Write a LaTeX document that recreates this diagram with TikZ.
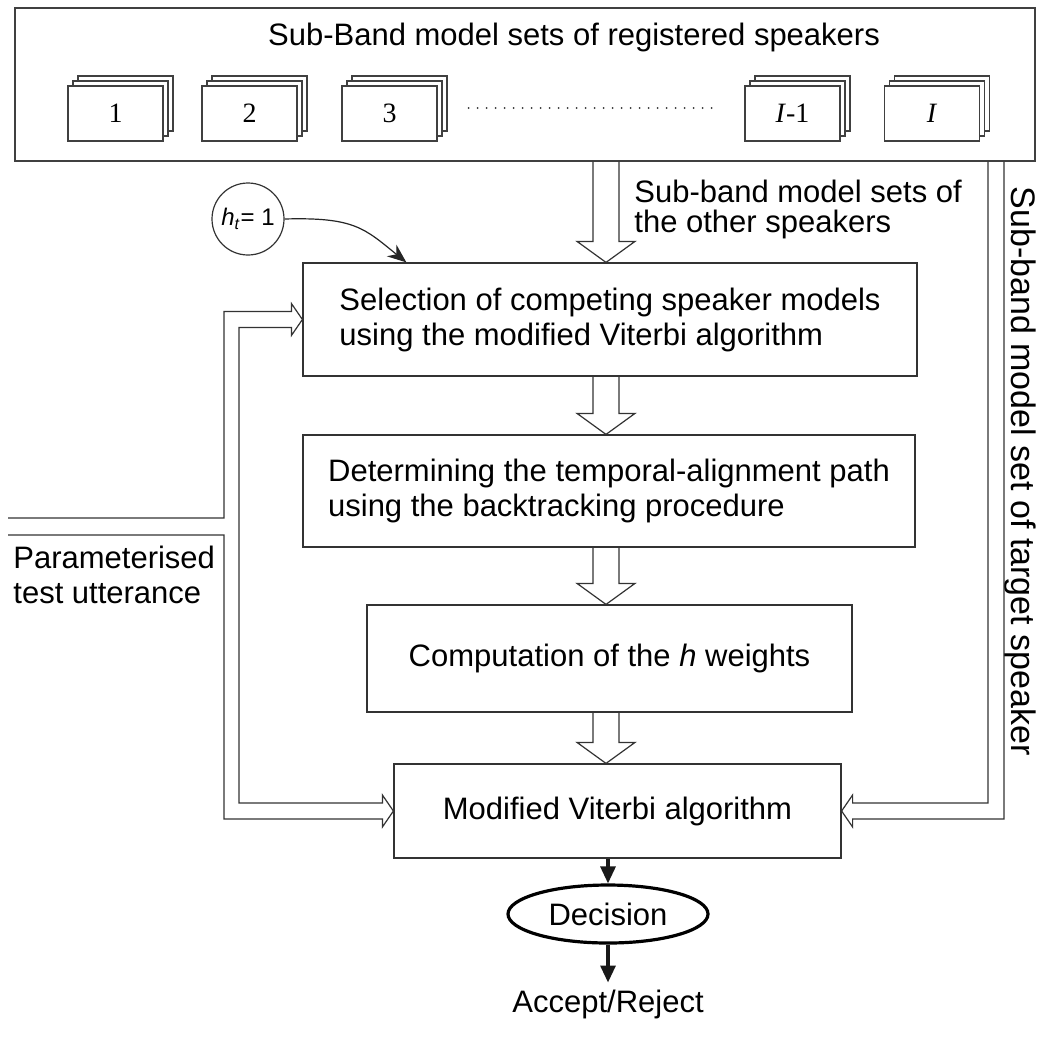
\documentclass[tikz,border=0pt]{standalone}
\usepackage{fontspec}
\setmainfont{Liberation Sans}
\newfontfamily\numfont{Liberation Serif}
\usetikzlibrary{arrows.meta,calc,shapes.geometric}
\newcommand{\mainfs}{\fontsize{15.5pt}{17.5pt}\selectfont}
\newcommand{\notefs}{\fontsize{15.5pt}{15pt}\selectfont}
\newcommand{\sidefs}{\fontsize{17pt}{19pt}\selectfont}
\newcommand{\numfs}{\numfont\fontsize{14pt}{16pt}\selectfont}
\newcommand{\htfs}{\fontsize{12pt}{14pt}\selectfont}
\tikzset{
  frame/.style    = {draw=black!75,line width=0.6pt},
  procbox/.style  = {draw=black!80,line width=0.6pt,inner sep=0pt,align=left,font=\mainfs},
  modelbox/.style = {frame,fill=white,minimum width=47.5pt,minimum height=27.5pt,inner sep=0pt,font=\numfs},
  hollow/.style   = {draw=black!80,line width=0.6pt,line join=miter},
  outarr/.style   = {-{Triangle[length=8.5pt,width=7.5pt]},line width=1.6pt,black!90},
  curvearr/.style = {-{Stealth[length=9.5pt,width=7.5pt]},line width=0.6pt,black!85},
  dotline/.style  = {line width=1pt,line cap=round,dash pattern=on 0pt off 4.5pt,black!80}
}
\newcommand{\modelstack}[3]{%
  \draw[frame,fill=white] (#2-37.5,76) rectangle (#2+57.5,131);
  \draw[frame,fill=white] (#2-42.5,81) rectangle (#2+52.5,136);
  \node[modelbox] (#1) at (#2,113.5) {#3};
}
\newcommand{\vblock}[2]{%
  \draw[hollow] let \p1=(#1), \p2=(#2) in
    (\x2-6.5pt,\y1) -- (\x2-6.5pt,\y2+10.5pt) -- (\x2-14.5pt,\y2+10.5pt) -- (\x2,\y2)
    -- (\x2+14.5pt,\y2+10.5pt) -- (\x2+6.5pt,\y2+10.5pt) -- (\x2+6.5pt,\y1);
}

\begin{document}
\begin{tikzpicture}[x=0.5pt,y=-0.5pt]
  \path[fill=white,use as bounding box] (0,0) rectangle (1042,1039);
  \node[frame,minimum width=510pt,minimum height=76.5pt,inner sep=0pt] (top) at (525,84.5) {};
  \node[font=\mainfs] (title) at (574,37) {Sub-Band model sets of registered speakers};
  \modelstack{s1}{115.5}{1}
  \modelstack{s2}{249.5}{2}
  \modelstack{s3}{389.5}{3}
  \modelstack{sI1}{792.5}{\textit{I}-1}
  \modelstack{sI}{932}{\textit{I}}
  \draw[dotline] ($(s3.east)+(31,-5.5)$) -- ($(sI1.west)+(-27,-5.5)$);

  \node[procbox,minimum width=307pt,minimum height=56.5pt] (boxA) at (610,319.5)
    {Selection of competing speaker models\\using the modified Viterbi algorithm};
  \node[procbox,minimum width=306pt,minimum height=56pt] (boxB) at (609,491)
    {Determining the temporal-alignment path\\using the backtracking procedure};
  \node[procbox,minimum width=242.5pt,minimum height=53.5pt,align=center] (boxC) at (609.5,658.5)
    {Computation of the \textit{h} weights};
  \node[procbox,minimum width=223.5pt,minimum height=47pt,align=center] (boxD) at (617.5,811)
    {Modified Viterbi algorithm};
  \node[ellipse,draw,line width=1.6pt,minimum width=100pt,minimum height=29pt,inner sep=0pt,font=\mainfs] (dec) at (608,914) {Decision};
  \node[font=\mainfs] (acc) at (608,1004) {Accept/Reject};

  \node[circle,draw=black!80,line width=0.6pt,minimum size=36pt,inner sep=0pt,font=\htfs] (ht) at (248,219)
    {\textit{h}\textsubscript{\textit{t}}= 1};
  \node[font=\notefs,align=left,anchor=north west,inner sep=0pt] (others) at (634,180)
    {Sub-band model sets of\\the other speakers};
  \node[font=\mainfs,align=left,anchor=north west,inner sep=0pt] (utterance) at (13,546)
    {Parameterised\\test utterance};
  \node[font=\sidefs,rotate=-90] (target) at (1020,471) {Sub-band model set of target speaker};

  \coordinate (mid) at (606,0);
  \vblock{top.south -| mid}{boxA.north -| mid}
  \vblock{boxA.south -| mid}{boxB.north -| mid}
  \vblock{boxB.south -| mid}{boxC.north -| mid}
  \vblock{boxC.south -| mid}{boxD.north -| mid}

  \coordinate (utt) at (8,526.5);
  \coordinate (lo) at (224,0);
  \coordinate (li) at (239,0);
  \draw[hollow] ($(utt)+(0,-8.5)$) -| ($(lo |- boxA.west)+(0,-8)$) -- ($(boxA.west)+(-11,-8)$)
    -- ++(0,-8) -- (boxA.west) -- ($(boxA.west)+(-11,16)$) -- ++(0,-8)
    -| ($(li |- boxD.west)+(0,-8)$) -- ($(boxD.west)+(-11,-8)$)
    -- ++(0,-8) -- (boxD.west) -- ($(boxD.west)+(-11,16)$) -- ++(0,-8)
    -- ($(lo |- boxD.west)+(0,8)$) |- ($(utt)+(0,8.5)$);

  \coordinate (ri) at (988,0);
  \coordinate (ro) at (1004,0);
  \draw[hollow] (ri |- top.south) -- ($(ri |- boxD.east)+(0,-8)$) -- ($(boxD.east)+(11,-8)$)
    -- ++(0,-8) -- (boxD.east) -- ($(boxD.east)+(11,16)$) -- ++(0,-8)
    -- ($(ro |- boxD.east)+(0,8)$) -- (ro |- top.south);

  \draw[curvearr] (ht.east) .. controls +(70,-2) and +(-42,-34) .. ($(boxA.north west)+(104,0)$);
  \draw[outarr] (boxD.south -| dec) -- (dec.north);
  \draw[outarr] (dec.south) -- (acc.north);
\end{tikzpicture}
\end{document}
